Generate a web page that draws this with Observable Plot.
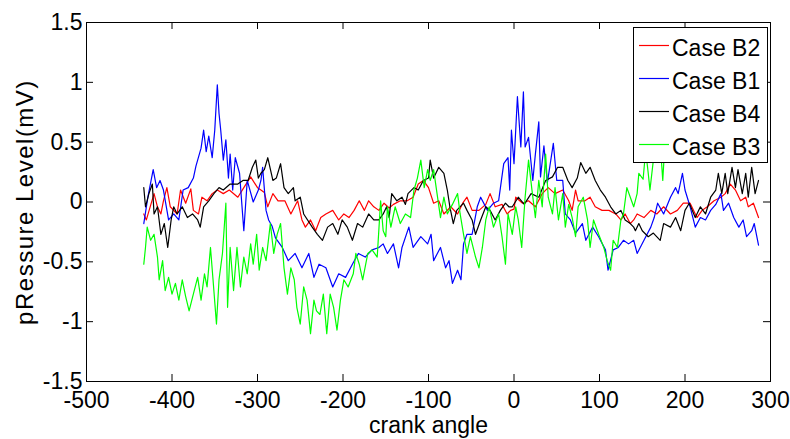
<!DOCTYPE html>
<html><head><meta charset="utf-8">
<script src="https://cdn.jsdelivr.net/npm/d3@7"></script>
<script src="https://cdn.jsdelivr.net/npm/@observablehq/plot@0.6"></script>
<style>
html,body{margin:0;padding:0;background:#fff;}
#wrap{position:relative;width:790px;height:439px;}
#legend{position:absolute;left:633px;top:27px;}
</style></head><body><div id="wrap"></div>
<script>
const xTicks = [-500,-400,-300,-200,-100,0,100,200,300];
const yTicks = [-1.5,-1,-0.5,0,0.5,1,1.5];
const seriesNames = ["Case B2","Case B1","Case B4","Case B3"];
const seriesColors = ["#ff0000","#0000ff","#000000","#00ff00"];
const xLabel = "crank angle";
const yLabel = "pRessure Level(mV)";

const caseB2 = [[-433,-0.10],[-430,-0.15],[-421,0.07],[-417,-0.04],[-413,-0.10],[-410,0.01],[-406,0.12],[-402,-0.04],[-394,-0.10],[-390,0.10],[-384,-0.01],[-378,0.11],[-375,-0.07],[-369,-0.10],[-365,0.04],[-359,0.01],[-353,0.07],[-347,0.10],[-340,0.07],[-333,0.10],[-323,0.04],[-316,0.12],[-308,0.21],[-300,0.12],[-296,0.10],[-292,0.08],[-288,-0.04],[-282,0.07],[-276,0.01],[-268,0.01],[-261,-0.10],[-253,0.01],[-248,-0.15],[-244,-0.21],[-238,-0.15],[-232,-0.24],[-226,-0.13],[-220,-0.10],[-212,-0.07],[-205,-0.15],[-199,-0.10],[-193,-0.13],[-187,-0.07],[-181,0.01],[-175,-0.07],[-170,0.01],[-164,-0.04],[-158,-0.07],[-152,-0.01],[-146,-0.05],[-141,-0.02],[-133,0.01],[-125,0.01],[-118,0.04],[-112,0.15],[-106,0.18],[-100,0.12],[-94,-0.01],[-88,0.01],[-82,-0.10],[-74,-0.04],[-66,-0.10],[-60,-0.01],[-55,0.04],[-49,-0.07],[-41,-0.07],[-33,-0.02],[-28,0.07],[-22,-0.04],[-14,-0.02],[-8,-0.10],[-4,-0.07],[0,-0.06],[2,0.04],[10,-0.01],[17,0.01],[25,-0.04],[33,0.07],[40,0.12],[48,0.07],[57,0.10],[64,0.01],[68,-0.07],[72,0.10],[75,0.01],[83,0.01],[89,0.04],[95,-0.04],[103,-0.07],[111,-0.07],[119,-0.10],[125,-0.15],[130,-0.10],[136,-0.18],[140,-0.15],[144,-0.10],[152,-0.13],[160,-0.07],[167,-0.10],[175,-0.04],[183,-0.10],[191,-0.07],[198,-0.01],[206,-0.01],[214,-0.13],[220,-0.07],[226,-0.04],[234,0.01],[242,0.04],[247,0.07],[253,0.15],[259,0.10],[265,0.01],[271,0.04],[274,-0.04],[280,-0.01],[286,-0.13]];

const caseB1 = [[-433,-0.18],[-428,0.05],[-422,0.27],[-418,0.12],[-414,0.18],[-410,0.10],[-404,-0.15],[-398,-0.10],[-392,-0.15],[-387,0.10],[-381,0.12],[-375,0.20],[-372,0.30],[-366,0.45],[-363,0.60],[-360,0.42],[-357,0.55],[-353,0.37],[-350,0.60],[-347,0.98],[-345,0.74],[-343,0.60],[-340,0.35],[-337,0.52],[-334,0.20],[-332,0.40],[-329,0.10],[-326,0.37],[-321,0.24],[-316,-0.24],[-312,0.18],[-305,0.00],[-299,0.10],[-296,0.18],[-294,0.29],[-290,-0.07],[-287,-0.15],[-283,-0.20],[-279,-0.30],[-271,-0.38],[-264,-0.49],[-256,-0.43],[-248,-0.55],[-240,-0.43],[-234,-0.63],[-228,-0.52],[-220,-0.55],[-212,-0.71],[-205,-0.60],[-197,-0.63],[-189,-0.52],[-182,-0.43],[-174,-0.46],[-166,-0.40],[-158,-0.38],[-153,-0.35],[-148,-0.43],[-141,-0.35],[-135,-0.55],[-131,-0.38],[-123,-0.21],[-118,-0.38],[-109,-0.29],[-101,-0.35],[-97,-0.27],[-94,-0.49],[-86,-0.38],[-80,-0.55],[-76,-0.49],[-72,-0.68],[-66,-0.57],[-62,-0.65],[-59,-0.35],[-55,-0.27],[-49,-0.27],[-43,-0.04],[-39,0.04],[-31,-0.07],[-24,-0.01],[-18,0.01],[-12,0.32],[-7,0.37],[-5,0.10],[-3,0.60],[0,0.32],[4,0.88],[8,0.46],[11,0.92],[13,0.46],[17,0.54],[22,0.18],[25,0.40],[29,0.67],[31,0.21],[35,0.47],[39,0.16],[46,0.49],[50,0.18],[57,0.18],[60,-0.10],[66,-0.15],[72,-0.26],[80,-0.18],[84,-0.32],[92,-0.21],[99,-0.29],[107,-0.40],[110,-0.57],[116,-0.40],[122,-0.38],[128,-0.32],[134,-0.35],[140,-0.32],[144,-0.43],[152,-0.32],[160,-0.21],[164,-0.13],[168,-0.01],[175,-0.10],[183,0.04],[189,0.12],[192,0.07],[197,0.24],[200,0.10],[206,-0.04],[212,-0.21],[218,-0.13],[224,-0.15],[230,-0.07],[236,-0.02],[242,0.07],[245,-0.07],[251,-0.01],[257,-0.13],[263,-0.21],[268,-0.15],[272,-0.29],[278,-0.24],[281,-0.18],[286,-0.36]];

const caseB4 = [[-433,0.12],[-431,-0.04],[-427,0.07],[-423,0.15],[-421,-0.10],[-417,-0.04],[-413,-0.27],[-409,-0.18],[-405,-0.38],[-401,-0.15],[-398,-0.04],[-394,-0.10],[-388,-0.04],[-382,-0.13],[-376,-0.10],[-370,-0.15],[-367,-0.21],[-363,-0.04],[-357,0.01],[-351,0.07],[-345,0.12],[-340,0.10],[-332,0.15],[-323,0.15],[-317,0.18],[-311,0.18],[-306,0.29],[-302,0.35],[-299,0.20],[-296,0.24],[-292,0.27],[-288,0.37],[-282,0.18],[-278,0.20],[-273,0.32],[-269,0.12],[-264,0.07],[-258,0.12],[-256,0.01],[-250,0.04],[-246,-0.10],[-236,-0.21],[-230,-0.27],[-224,-0.32],[-218,-0.21],[-212,-0.18],[-206,-0.27],[-201,-0.15],[-195,-0.21],[-189,-0.32],[-183,-0.18],[-177,-0.21],[-170,-0.10],[-164,-0.15],[-158,-0.15],[-153,-0.10],[-149,-0.04],[-146,-0.13],[-143,0.07],[-137,0.01],[-131,0.04],[-127,-0.02],[-124,0.07],[-117,0.12],[-112,0.10],[-106,0.18],[-100,0.20],[-98,0.35],[-94,0.20],[-88,0.29],[-82,0.24],[-78,0.10],[-75,-0.04],[-71,-0.18],[-67,-0.07],[-59,-0.01],[-55,-0.07],[-49,-0.15],[-45,-0.27],[-39,-0.15],[-33,-0.04],[-28,-0.07],[-22,-0.15],[-16,-0.07],[-10,-0.01],[-6,-0.04],[-2,-0.04],[5,0.04],[12,-0.02],[20,0.07],[29,0.04],[37,0.18],[45,0.21],[51,0.29],[57,0.29],[63,0.18],[68,0.12],[74,0.20],[78,0.33],[84,0.24],[89,0.29],[95,0.18],[101,0.10],[107,0.04],[113,-0.04],[119,-0.10],[125,-0.07],[130,-0.15],[136,-0.18],[140,-0.21],[142,-0.24],[146,-0.18],[150,-0.24],[157,-0.29],[163,-0.26],[171,-0.32],[175,-0.18],[183,-0.21],[189,-0.13],[195,-0.24],[200,-0.07],[205,-0.01],[212,-0.13],[218,-0.04],[224,-0.10],[230,0.04],[236,0.10],[239,0.24],[243,0.07],[247,0.24],[250,0.07],[255,0.29],[259,0.12],[262,0.27],[267,0.07],[271,0.24],[274,0.04],[278,0.29],[282,0.07],[286,0.18]];

const caseB3 = [[-433,-0.52],[-431,-0.38],[-429,-0.21],[-425,-0.32],[-421,-0.27],[-417,-0.46],[-415,-0.65],[-411,-0.49],[-408,-0.74],[-404,-0.63],[-400,-0.77],[-396,-0.68],[-392,-0.82],[-388,-0.65],[-384,-0.79],[-380,-0.91],[-374,-0.74],[-370,-0.63],[-366,-0.82],[-362,-0.60],[-359,-0.71],[-355,-0.38],[-352,-0.65],[-348,-1.02],[-345,-0.65],[-341,-0.43],[-337,-0.01],[-335,-0.88],[-332,-0.38],[-328,-0.74],[-324,-0.38],[-320,-0.71],[-316,-0.46],[-312,-0.60],[-308,-0.35],[-305,-0.52],[-301,-0.27],[-298,-0.57],[-294,-0.38],[-290,-0.49],[-285,-0.18],[-281,-0.43],[-277,-0.27],[-273,-0.18],[-269,-0.55],[-265,-0.77],[-261,-0.55],[-257,-0.65],[-254,-0.88],[-250,-1.02],[-246,-0.71],[-242,-0.82],[-238,-1.10],[-234,-0.82],[-231,-0.91],[-227,-0.94],[-223,-0.77],[-219,-1.10],[-215,-0.77],[-211,-0.88],[-207,-1.07],[-203,-0.82],[-199,-0.65],[-194,-0.71],[-188,-0.60],[-185,-0.43],[-181,-0.52],[-177,-0.65],[-171,-0.43],[-166,-0.40],[-160,-0.46],[-156,0.01],[-153,-0.24],[-150,-0.29],[-148,-0.04],[-144,-0.21],[-139,-0.04],[-133,-0.18],[-127,-0.10],[-121,-0.13],[-117,0.10],[-113,0.20],[-109,0.35],[-105,0.12],[-101,0.27],[-98,0.18],[-94,0.27],[-90,0.07],[-86,-0.13],[-82,0.04],[-78,-0.10],[-72,-0.02],[-66,0.07],[-63,-0.10],[-59,-0.27],[-55,-0.43],[-51,-0.29],[-45,-0.46],[-41,-0.55],[-37,-0.38],[-33,-0.15],[-29,-0.04],[-24,-0.21],[-18,-0.10],[-14,-0.29],[-10,-0.52],[-7,-0.10],[-2,-0.27],[2,-0.04],[5,-0.15],[9,-0.38],[13,0.04],[17,0.35],[21,0.10],[25,-0.13],[29,0.18],[33,-0.04],[37,0.40],[40,0.04],[45,-0.10],[48,0.12],[52,-0.15],[57,0.07],[60,-0.21],[64,-0.02],[68,-0.13],[72,-0.29],[75,-0.04],[81,0.04],[86,-0.15],[89,-0.38],[93,-0.15],[99,-0.27],[105,-0.38],[109,-0.49],[113,-0.57],[116,-0.32],[121,-0.38],[125,-0.15],[128,-0.10],[132,0.12],[136,0.04],[140,-0.04],[144,0.07],[146,0.24],[151,0.19],[154,0.43],[157,0.24],[159,0.10],[163,0.35],[166,0.60],[170,0.60],[174,0.18],[176,0.43],[180,0.55]];

const seriesData = [caseB2, caseB1, caseB4, caseB3];
const rows = seriesData.flatMap((pts, i) => pts.map(([a, v]) => ({angle: a, value: v, name: seriesNames[i]})));

const FONT = "'Liberation Sans', Arial, sans-serif";
const fmt = d => String(d);
const TICK = 7;
const W = 790, H = 439, ML = 86, MR = 20, MT = 22, MB = 58;
const innerW = W - ML - MR, innerH = H - MT - MB;

const chart = Plot.plot({
  width: W, height: H,
  marginLeft: ML, marginRight: MR, marginTop: MT, marginBottom: MB,
  style: {fontFamily: FONT, fontSize: "23px", background: "white", color: "black", overflow: "visible"},
  x: {domain: [-500, 300], label: null},
  y: {domain: [-1.5, 1.5], label: null},
  color: {domain: seriesNames, range: seriesColors},
  marks: [
    ...seriesNames.map(n => Plot.line(rows.filter(r => r.name === n), {x: "angle", y: "value", stroke: "name", strokeWidth: 1.2})),
    // inward MATLAB-style ticks on all four sides
    Plot.tickX(xTicks, {x: d => d, insetTop: innerH - TICK, stroke: "black"}),
    Plot.tickX(xTicks, {x: d => d, insetBottom: innerH - TICK, stroke: "black"}),
    Plot.tickY(yTicks, {y: d => d, insetRight: innerW - TICK, stroke: "black"}),
    Plot.tickY(yTicks, {y: d => d, insetLeft: innerW - TICK, stroke: "black"}),
    Plot.frame({stroke: "black", strokeWidth: 1}),
    Plot.axisX({anchor: "bottom", ticks: xTicks, tickSize: 0, tickPadding: 10, tickFormat: fmt, label: null}),
    Plot.axisY({anchor: "left", ticks: yTicks, tickSize: 0, tickPadding: 4, tickFormat: fmt, label: null}),
    Plot.text([xLabel], {frameAnchor: "bottom", lineAnchor: "middle", textAnchor: "middle", dy: 44, text: d => d, fontSize: 23}),
    Plot.text([yLabel], {frameAnchor: "left", lineAnchor: "middle", textAnchor: "middle", dx: -61, rotate: -90, text: d => d, fontSize: 24})
  ]
});

// the reference's rotated y label is set slightly wider than the other texts
d3.select(chart).selectAll("text").filter(function() { return this.textContent === yLabel; })
  .style("letter-spacing", "1.5px");

const wrap = document.getElementById("wrap");
wrap.appendChild(chart);

// legend box overlay (white, bordered), like the MATLAB legend
const lg = d3.select(wrap).append("svg").attr("id", "legend")
  .attr("width", 136).attr("height", 137)
  .style("font-family", FONT).style("font-size", "23px");
lg.append("rect").attr("x", 0.5).attr("y", 0.5).attr("width", 134).attr("height", 135)
  .attr("fill", "white").attr("stroke", "black").attr("stroke-width", 1);
seriesNames.forEach((n, i) => {
  const y = 18 + i * 33;
  lg.append("line").attr("x1", 6).attr("x2", 36).attr("y1", y + 0.5).attr("y2", y + 0.5)
    .attr("stroke", seriesColors[i]).attr("stroke-width", 1.2);
  lg.append("text").attr("x", 39).attr("y", y + 11).attr("fill", "black").text(n);
});
</script></body></html>
